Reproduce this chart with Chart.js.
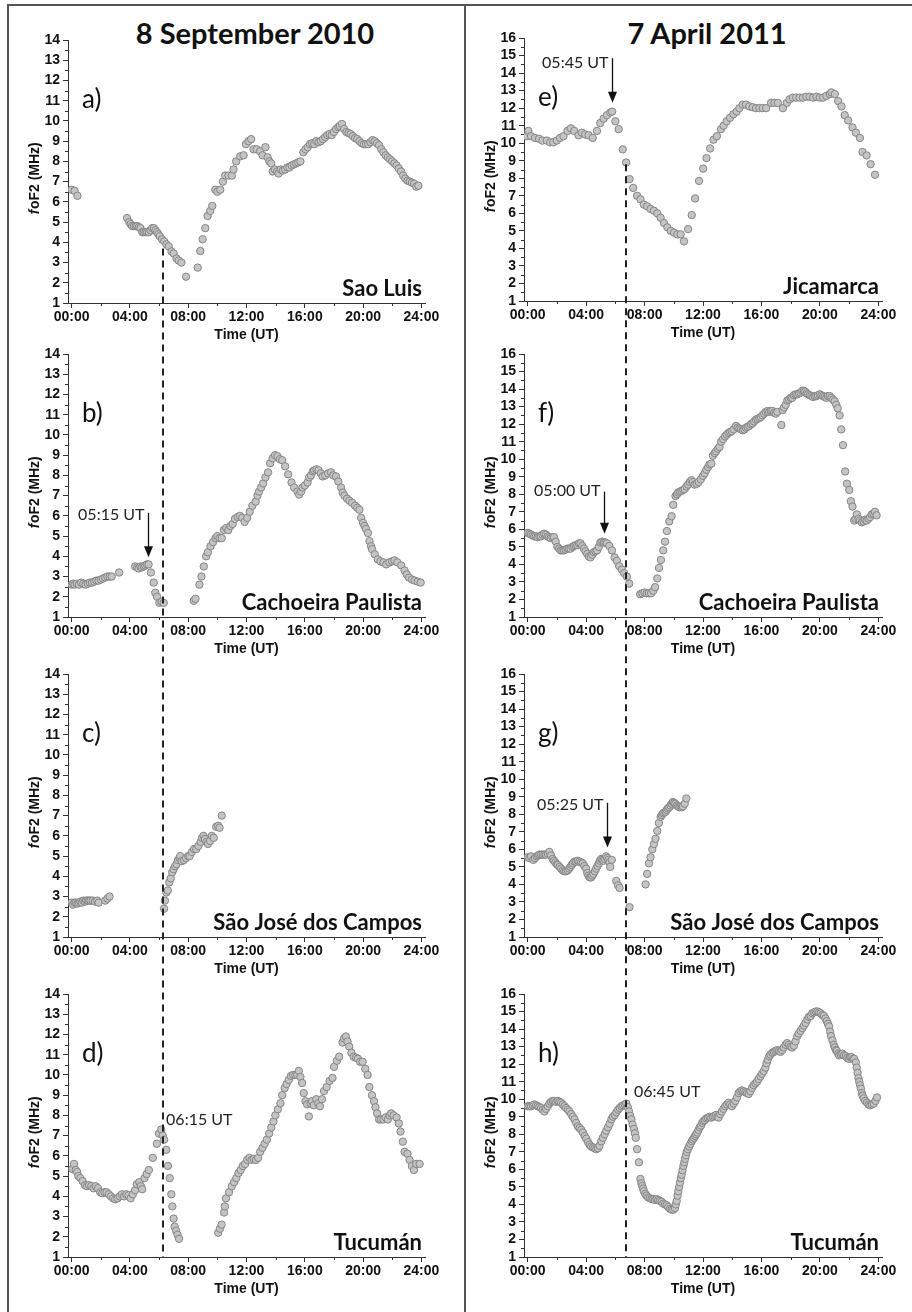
<!DOCTYPE html>
<html>
<head>
<meta charset="utf-8">
<script src="https://cdn.jsdelivr.net/npm/chart.js@4.4.1/dist/chart.umd.min.js"></script>
<style>
  body { margin: 0; background: #fff; }
  #page { position: relative; width: 912px; height: 1312px; overflow: hidden; background: #fff; }
  .rule { position: absolute; background: #555; }
  .date { position: absolute; top: 19px; width: 400px; text-align: center; font: bold 29px Lato, sans-serif; line-height: 28px; color: #111; }
  .panel { position: absolute; }
  #overlay { position: absolute; left: 0; top: 0; pointer-events: none; }
</style>
</head>
<body>
<div id="page">
  <div class="rule" style="left:7px;top:4px;width:2px;height:1308px"></div>
  <div class="rule" style="left:7px;top:4px;width:905px;height:2px"></div>
  <div class="rule" style="left:464px;top:4px;width:2px;height:1308px"></div>
  <div class="date" style="left:55px">8 September 2010</div>
  <div class="date" style="left:507px">7 April 2011</div>
  <canvas id="overlay" width="912" height="1312"></canvas>
</div>
<script>
// foF2 readings, [hour UT, MHz]
const saoLuis2010 = [
  [0.0,6.6],[0.2,6.55],[0.4,6.3],
  [3.8,5.2],[3.95,5.0],[4.05,4.9],[4.15,4.8],[4.27,4.8],[4.4,4.8],[4.5,4.8],[4.62,4.75],[4.72,4.7],[4.85,4.5],[4.95,4.5],[5.07,4.5],[5.18,4.5],[5.3,4.5],[5.41,4.6],[5.52,4.7],[5.64,4.7],[5.75,4.6],[5.86,4.5],[5.95,4.4],[6.05,4.3],[6.2,4.15],[6.35,4.05],[6.5,3.9],[6.66,3.8],[6.85,3.55],[7.0,3.45],[7.2,3.2],[7.35,3.1],[7.53,3.0],[7.85,2.3],
  [8.65,2.75],[8.83,3.57],[8.99,4.15],[9.17,4.7],[9.33,5.3],[9.51,5.55],[9.65,5.8],[9.86,6.6],[10.0,6.5],[10.2,6.6],[10.38,7.0],[10.54,7.3],[10.77,7.3],[11.0,7.3],[11.11,7.6],[11.29,8.0],[11.57,8.25],[11.8,8.3],[11.96,8.85],[12.14,9.0],[12.32,9.1],[12.48,8.6],[12.7,8.6],[12.93,8.5],[13.1,8.3],[13.3,8.7],[13.45,8.2],[13.57,8.0],[13.7,7.9],[13.8,7.5],[13.95,7.6],[14.1,7.5],[14.2,7.4],[14.35,7.6],[14.5,7.55],[14.65,7.6],[14.8,7.7],[14.95,7.7],[15.1,7.8],[15.25,7.85],[15.4,7.9],[15.55,7.95],[15.7,8.0],[15.9,8.45],[16.05,8.6],[16.2,8.7],[16.35,8.85],[16.5,8.9],[16.65,8.85],[16.8,9.0],[16.95,8.95],[17.1,9.0],[17.25,9.1],[17.4,9.2],[17.55,9.3],[17.7,9.35],[17.85,9.3],[18.0,9.45],[18.15,9.6],[18.3,9.7],[18.4,9.75],[18.55,9.85],[18.7,9.6],[18.85,9.45],[19.0,9.4],[19.15,9.35],[19.3,9.25],[19.45,9.15],[19.6,9.1],[19.75,9.0],[19.9,8.9],[20.05,8.85],[20.2,8.85],[20.35,8.85],[20.5,8.95],[20.65,9.05],[20.8,9.0],[20.95,8.9],[21.1,8.8],[21.25,8.6],[21.4,8.45],[21.55,8.3],[21.7,8.2],[21.85,8.1],[22.0,8.0],[22.15,7.9],[22.3,7.8],[22.45,7.65],[22.6,7.5],[22.75,7.3],[22.9,7.15],[23.05,7.05],[23.2,7.0],[23.35,6.95],[23.5,6.9],[23.65,6.75],[23.8,6.8]
];
const cachoeira2010 = [
  [0.0,2.6],[0.1,2.65],[0.2,2.6],[0.35,2.65],[0.5,2.6],[0.65,2.7],[0.8,2.65],[0.95,2.6],[1.1,2.65],[1.25,2.7],[1.4,2.7],[1.55,2.75],[1.7,2.8],[1.85,2.8],[2.0,2.85],[2.15,2.9],[2.3,2.95],[2.45,3.0],[2.6,3.0],[2.75,3.0],
  [3.26,3.2],
  [4.36,3.5],[4.5,3.45],[4.6,3.4],[4.72,3.5],[4.82,3.45],[4.95,3.5],[5.05,3.55],[5.17,3.6],[5.28,3.6],[5.44,3.2],[5.63,2.7],[5.74,2.2],[5.86,2.0],[6.02,1.7],[6.17,1.75],[6.32,1.7],
  [8.38,1.8],[8.5,1.9],[8.77,2.6],[8.91,3.0],[9.07,3.5],[9.23,4.0],[9.35,4.2],[9.53,4.5],[9.7,4.7],[9.88,4.9],[10.0,5.0],[10.15,4.9],[10.3,4.9],[10.45,5.3],[10.61,5.4],[10.75,5.3],[10.9,5.5],[11.05,5.6],[11.21,5.85],[11.4,5.95],[11.55,6.0],[11.71,5.9],[11.87,5.7],[12.05,5.9],[12.22,6.2],[12.4,6.5],[12.63,6.7],[12.75,7.0],[12.86,7.2],[13.0,7.4],[13.14,7.6],[13.3,7.9],[13.48,8.15],[13.62,8.6],[13.8,8.85],[13.96,9.0],[14.12,8.95],[14.29,8.8],[14.45,8.75],[14.65,8.45],[14.86,8.05],[15.09,7.65],[15.27,7.4],[15.5,7.2],[15.62,7.05],[15.75,7.2],[15.85,7.4],[16.0,7.5],[16.19,7.65],[16.3,7.9],[16.42,8.0],[16.55,8.2],[16.65,8.25],[16.8,8.3],[16.95,8.25],[17.1,8.1],[17.23,7.95],[17.4,8.0],[17.6,8.1],[17.8,8.15],[17.95,8.0],[18.14,7.95],[18.3,7.7],[18.49,7.4],[18.6,7.15],[18.72,7.0],[18.9,6.85],[19.06,6.75],[19.25,6.65],[19.45,6.5],[19.6,6.4],[19.75,6.3],[19.87,5.9],[20.0,5.65],[20.1,5.5],[20.2,5.35],[20.33,5.15],[20.44,4.75],[20.55,4.5],[20.62,4.35],[20.8,4.1],[21.01,3.85],[21.2,3.75],[21.4,3.7],[21.59,3.6],[21.8,3.7],[22.0,3.75],[22.16,3.8],[22.35,3.7],[22.62,3.55],[22.85,3.3],[23.0,3.1],[23.15,2.95],[23.35,2.85],[23.54,2.8],[23.75,2.75],[23.95,2.7]
];
const saoJose2010 = [
  [0.0,2.7],[0.1,2.6],[0.2,2.7],[0.3,2.7],[0.4,2.65],[0.5,2.7],[0.6,2.75],[0.7,2.7],[0.8,2.8],[0.9,2.75],[1.0,2.8],[1.1,2.8],[1.2,2.8],[1.3,2.8],[1.45,2.8],[1.6,2.75],[1.75,2.8],[1.85,2.7],[2.3,2.8],[2.45,2.9],[2.6,3.0],
  [6.34,2.4],[6.4,2.8],[6.5,3.2],[6.6,3.3],[6.7,3.7],[6.8,3.9],[6.9,4.2],[7.0,4.35],[7.1,4.5],[7.2,4.6],[7.3,4.8],[7.4,4.9],[7.45,5.0],[7.55,4.75],[7.7,4.8],[7.85,4.9],[8.0,5.0],[8.1,5.0],[8.25,5.2],[8.4,5.35],[8.55,5.35],[8.7,5.5],[8.85,5.7],[8.95,5.9],[9.05,6.0],[9.15,5.85],[9.25,5.7],[9.35,5.6],[9.5,5.75],[9.62,6.0],[9.75,5.9],[9.92,6.45],[10.05,6.5],[10.15,6.4],[10.3,7.0]
];
const tucuman2010 = [
  [0.05,5.35],[0.16,5.6],[0.28,5.3],[0.38,5.2],[0.46,5.0],[0.6,4.9],[0.75,4.75],[0.92,4.55],[1.05,4.5],[1.2,4.55],[1.35,4.5],[1.5,4.4],[1.65,4.5],[1.8,4.4],[1.96,4.2],[2.1,4.15],[2.25,4.2],[2.4,4.2],[2.55,4.1],[2.69,4.0],[2.85,3.9],[2.99,3.85],[3.15,3.9],[3.3,4.0],[3.45,4.1],[3.6,4.0],[3.75,4.1],[3.9,4.05],[4.05,3.9],[4.2,4.1],[4.35,4.3],[4.47,4.6],[4.65,4.7],[4.75,4.5],[4.84,4.35],[5.0,4.9],[5.15,5.1],[5.3,5.3],[5.57,5.9],[5.85,6.6],[5.99,7.1],[6.15,7.3],[6.25,7.0],[6.35,6.8],[6.49,6.3],[6.61,5.5],[6.73,4.9],[6.84,4.1],[6.91,3.5],[7.0,2.9],[7.07,2.5],[7.17,2.3],[7.27,2.1],[7.37,1.9],
  [10.06,2.2],[10.18,2.4],[10.29,2.6],[10.46,3.2],[10.52,3.5],[10.59,3.9],[10.8,4.2],[10.99,4.5],[11.15,4.7],[11.3,4.9],[11.45,5.15],[11.6,5.3],[11.75,5.5],[11.9,5.6],[12.05,5.8],[12.2,5.9],[12.35,5.8],[12.5,5.85],[12.65,5.8],[12.8,5.9],[12.94,6.2],[13.1,6.4],[13.25,6.6],[13.4,6.8],[13.55,7.1],[13.7,7.4],[13.85,7.7],[13.98,8.0],[14.15,8.3],[14.33,8.6],[14.45,9.0],[14.62,9.35],[14.75,9.55],[14.9,9.75],[15.05,9.95],[15.2,10.0],[15.35,10.0],[15.48,10.0],[15.59,10.2],[15.7,9.9],[15.82,9.6],[15.93,9.1],[16.05,8.7],[16.16,8.55],[16.28,7.95],[16.4,8.6],[16.5,8.7],[16.62,8.5],[16.79,8.8],[16.92,8.6],[17.04,8.45],[17.18,8.8],[17.32,9.2],[17.5,9.4],[17.7,9.7],[17.9,9.85],[18.01,10.4],[18.2,10.7],[18.36,10.9],[18.59,11.6],[18.7,11.8],[18.82,11.9],[18.93,11.65],[19.05,11.4],[19.2,11.1],[19.35,10.9],[19.51,10.85],[19.65,10.8],[19.8,10.65],[19.97,10.65],[20.15,10.3],[20.31,10.0],[20.43,9.4],[20.61,9.0],[20.75,8.7],[20.85,8.4],[20.96,8.1],[21.1,7.8],[21.23,7.8],[21.4,7.8],[21.55,7.9],[21.7,7.8],[21.82,8.0],[21.93,8.1],[22.1,8.0],[22.3,7.9],[22.45,7.6],[22.57,7.2],[22.73,6.7],[22.85,6.2],[23.05,6.1],[23.19,5.8],[23.35,5.5],[23.49,5.3],[23.65,5.6],[23.88,5.6]
];
const jicamarca2011 = [
  [-0.1,10.4],[0.05,10.7],[0.23,10.4],[0.5,10.3],[0.78,10.25],[1.01,10.15],[1.31,10.15],[1.54,10.05],[1.76,10.05],[1.99,10.15],[2.22,10.3],[2.45,10.4],[2.73,10.7],[2.96,10.85],[3.19,10.7],[3.48,10.45],[3.71,10.6],[3.94,10.5],[4.17,10.45],[4.45,10.3],[4.74,10.7],[4.97,11.15],[5.2,11.4],[5.43,11.6],[5.66,11.75],[5.78,11.8],[6.0,11.25],[6.23,10.8],[6.51,9.65],[6.74,8.9],[6.97,7.95],[7.22,7.45],[7.49,7.0],[7.72,6.8],[7.95,6.5],[8.18,6.4],[8.41,6.25],[8.64,6.15],[8.87,6.0],[9.1,5.75],[9.33,5.45],[9.56,5.2],[9.79,5.0],[10.02,4.9],[10.24,4.8],[10.47,4.8],[10.7,4.4],[10.98,5.1],[11.23,5.9],[11.46,6.85],[11.73,7.85],[12.01,8.55],[12.24,9.15],[12.49,9.7],[12.72,10.2],[12.95,10.4],[13.23,10.8],[13.41,11.0],[13.62,11.25],[13.85,11.45],[14.08,11.65],[14.3,11.8],[14.49,12.0],[14.71,12.2],[14.94,12.2],[15.17,12.1],[15.4,12.05],[15.63,12.0],[15.86,12.0],[16.09,12.0],[16.32,12.0],[16.66,12.3],[16.89,12.3],[17.12,12.3],[17.47,12.0],[17.74,12.3],[17.92,12.5],[18.15,12.6],[18.38,12.6],[18.61,12.6],[18.84,12.6],[19.07,12.65],[19.3,12.65],[19.53,12.6],[19.76,12.65],[19.99,12.6],[20.22,12.6],[20.44,12.7],[20.67,12.8],[20.79,12.9],[21.02,12.8],[21.25,12.4],[21.48,12.1],[21.7,11.6],[21.93,11.3],[22.23,10.9],[22.46,10.6],[22.74,10.3],[22.92,9.5],[23.2,9.3],[23.47,8.8],[23.77,8.2]
];
const cachoeira2011 = [
  [0.0,5.8],[0.12,5.75],[0.23,5.7],[0.35,5.65],[0.45,5.6],[0.57,5.6],[0.68,5.55],[0.8,5.6],[0.91,5.6],[1.02,5.7],[1.13,5.75],[1.25,5.7],[1.36,5.6],[1.47,5.55],[1.58,5.5],[1.7,5.55],[1.81,5.55],[1.92,5.3],[2.04,5.0],[2.15,4.9],[2.26,4.8],[2.38,4.8],[2.49,4.8],[2.6,4.85],[2.72,4.9],[2.83,4.9],[2.94,4.9],[3.06,5.0],[3.17,5.05],[3.28,5.1],[3.4,5.1],[3.51,5.2],[3.62,5.2],[3.74,5.05],[3.85,4.9],[3.96,4.75],[4.08,4.6],[4.19,4.45],[4.3,4.4],[4.42,4.55],[4.53,4.7],[4.64,4.75],[4.75,4.8],[4.87,5.0],[4.98,5.25],[5.1,5.3],[5.21,5.25],[5.32,5.25],[5.43,5.2],[5.59,5.05],[5.77,4.8],[5.95,4.4],[6.11,4.2],[6.27,3.9],[6.45,3.7],[6.61,3.5],[6.79,3.3],[6.95,2.9],
  [7.7,2.3],[7.85,2.35],[8.0,2.4],[8.15,2.35],[8.3,2.35],[8.45,2.35],[8.6,2.5],[8.72,2.7],[8.87,3.2],[8.99,3.8],[9.12,4.25],[9.28,4.8],[9.4,5.3],[9.53,5.9],[9.69,6.45],[9.85,6.75],[9.96,7.4],[10.12,7.9],[10.22,8.0],[10.3,8.1],[10.42,8.15],[10.53,8.2],[10.65,8.25],[10.75,8.3],[10.87,8.45],[10.98,8.55],[11.1,8.7],[11.21,8.8],[11.32,8.7],[11.43,8.55],[11.57,8.6],[11.7,8.7],[11.85,8.85],[12.0,9.05],[12.12,9.2],[12.23,9.4],[12.35,9.55],[12.45,9.7],[12.57,9.75],[12.68,10.2],[12.8,10.35],[12.9,10.45],[13.02,10.6],[13.13,10.7],[13.24,11.0],[13.38,11.15],[13.51,11.3],[13.62,11.4],[13.74,11.5],[13.86,11.55],[13.97,11.6],[14.1,11.7],[14.26,11.9],[14.38,11.8],[14.49,11.75],[14.6,11.7],[14.72,11.65],[14.83,11.7],[14.94,11.8],[15.05,11.85],[15.17,11.9],[15.28,12.0],[15.39,12.05],[15.5,12.15],[15.62,12.25],[15.73,12.3],[15.85,12.35],[15.96,12.4],[16.07,12.5],[16.19,12.6],[16.3,12.7],[16.42,12.75],[16.53,12.7],[16.64,12.75],[16.75,12.75],[16.87,12.65],[16.98,12.6],[17.09,12.7],[17.36,11.95],[17.45,12.8],[17.55,12.95],[17.66,13.1],[17.77,13.35],[17.89,13.4],[18.0,13.5],[18.11,13.5],[18.22,13.65],[18.34,13.7],[18.45,13.7],[18.57,13.75],[18.68,13.8],[18.79,13.9],[18.9,13.9],[19.0,13.85],[19.09,13.75],[19.2,13.7],[19.31,13.65],[19.42,13.6],[19.54,13.55],[19.65,13.6],[19.76,13.6],[19.87,13.65],[19.99,13.7],[20.1,13.65],[20.22,13.6],[20.33,13.55],[20.44,13.5],[20.55,13.6],[20.67,13.6],[20.78,13.5],[20.9,13.4],[21.01,13.3],[21.12,13.1],[21.22,12.9],[21.35,12.5],[21.46,11.7],[21.58,10.8],[21.73,9.3],[21.85,8.6],[22.01,8.25],[22.12,7.6],[22.23,7.3],[22.35,6.5],[22.44,6.6],[22.53,6.85],[22.64,6.6],[22.75,6.5],[22.87,6.4],[22.98,6.45],[23.09,6.55],[23.2,6.5],[23.32,6.6],[23.43,6.7],[23.55,6.85],[23.66,6.9],[23.77,7.0],[23.88,6.8]
];
const saoJose2011 = [
  [0.0,5.55],[0.12,5.5],[0.23,5.6],[0.39,5.4],[0.5,5.5],[0.62,5.6],[0.72,5.65],[0.8,5.7],[0.92,5.7],[1.03,5.7],[1.15,5.7],[1.26,5.7],[1.38,5.75],[1.49,5.85],[1.6,5.65],[1.71,5.45],[1.8,5.35],[1.9,5.25],[2.0,5.15],[2.06,5.1],[2.18,5.0],[2.29,4.9],[2.4,4.8],[2.51,4.75],[2.62,4.75],[2.74,4.8],[2.84,4.9],[2.93,5.0],[3.01,5.1],[3.09,5.2],[3.2,5.3],[3.31,5.3],[3.43,5.35],[3.54,5.3],[3.66,5.25],[3.77,5.2],[3.88,5.05],[4.0,4.9],[4.08,4.65],[4.16,4.5],[4.25,4.4],[4.34,4.4],[4.42,4.5],[4.5,4.6],[4.6,4.75],[4.69,4.9],[4.78,5.05],[4.87,5.2],[4.95,5.35],[5.03,5.45],[5.11,5.4],[5.19,5.35],[5.28,5.45],[5.37,5.6],[5.45,5.5],[5.53,5.4],[5.6,5.25],[5.65,5.0],[5.76,5.4],[6.06,4.2],[6.18,3.95],[6.29,3.8],[6.97,2.7],
  [8.07,4.0],[8.18,4.6],[8.3,5.2],[8.41,5.55],[8.53,6.0],[8.64,6.3],[8.75,6.6],[8.87,7.05],[8.98,7.5],[9.1,7.85],[9.18,7.95],[9.26,8.05],[9.35,8.1],[9.44,8.15],[9.52,8.25],[9.6,8.35],[9.69,8.4],[9.78,8.5],[9.86,8.6],[9.94,8.7],[10.02,8.65],[10.1,8.6],[10.2,8.5],[10.29,8.45],[10.38,8.4],[10.47,8.45],[10.55,8.4],[10.63,8.45],[10.75,8.6],[10.86,8.9]
];
const tucuman2011 = [
  [0.0,9.6],[0.12,9.6],[0.23,9.6],[0.35,9.65],[0.46,9.7],[0.58,9.65],[0.69,9.6],[0.8,9.55],[0.92,9.5],[1.03,9.4],[1.15,9.3],[1.26,9.45],[1.38,9.6],[1.49,9.75],[1.6,9.85],[1.72,9.9],[1.83,9.9],[1.95,9.85],[2.06,9.9],[2.17,9.85],[2.29,9.8],[2.4,9.7],[2.52,9.6],[2.63,9.5],[2.75,9.4],[2.86,9.3],[2.98,9.15],[3.09,9.0],[3.21,8.85],[3.32,8.65],[3.44,8.45],[3.55,8.35],[3.67,8.25],[3.78,8.1],[3.9,7.9],[4.01,7.75],[4.13,7.55],[4.24,7.4],[4.35,7.3],[4.47,7.25],[4.58,7.2],[4.7,7.15],[4.81,7.2],[4.92,7.35],[5.04,7.6],[5.15,7.8],[5.27,8.0],[5.38,8.2],[5.5,8.4],[5.61,8.6],[5.73,8.85],[5.84,9.0],[5.96,9.1],[6.07,9.25],[6.19,9.4],[6.3,9.5],[6.42,9.6],[6.53,9.65],[6.65,9.7],[6.75,9.75],[6.85,9.55],[6.94,9.3],[7.02,9.05],[7.1,8.85],[7.18,8.55],[7.27,8.3],[7.34,8.05],[7.4,7.8],[7.49,7.15],[7.61,6.4],[7.72,5.45],[7.78,5.2],[7.84,5.05],[7.9,4.9],[7.95,4.75],[8.05,4.6],[8.14,4.5],[8.25,4.4],[8.37,4.35],[8.48,4.3],[8.6,4.3],[8.71,4.25],[8.82,4.3],[8.94,4.25],[9.05,4.2],[9.17,4.15],[9.28,4.05],[9.4,4.0],[9.51,3.95],[9.62,3.85],[9.74,3.75],[9.85,3.7],[9.97,3.7],[10.08,3.8],[10.14,4.0],[10.2,4.2],[10.26,4.5],[10.31,4.75],[10.37,5.0],[10.43,5.25],[10.48,5.5],[10.54,5.7],[10.6,5.95],[10.66,6.2],[10.72,6.4],[10.77,6.6],[10.83,6.8],[10.89,7.0],[10.97,7.15],[11.05,7.3],[11.14,7.45],[11.23,7.6],[11.31,7.7],[11.39,7.8],[11.46,7.9],[11.53,8.0],[11.61,8.1],[11.69,8.25],[11.78,8.4],[11.87,8.5],[11.95,8.65],[12.03,8.75],[12.12,8.8],[12.22,8.9],[12.33,8.95],[12.45,9.0],[12.56,8.95],[12.67,9.0],[12.78,9.05],[12.9,9.1],[13.0,9.0],[13.06,8.95],[13.18,9.15],[13.29,9.3],[13.4,9.45],[13.52,9.6],[13.63,9.7],[13.75,9.8],[13.86,9.7],[13.98,9.6],[14.1,9.75],[14.21,9.9],[14.33,10.1],[14.44,10.35],[14.56,10.45],[14.67,10.5],[14.78,10.45],[14.9,10.4],[15.01,10.35],[15.13,10.3],[15.24,10.45],[15.36,10.65],[15.47,10.8],[15.59,10.9],[15.7,11.0],[15.81,11.15],[15.93,11.3],[16.04,11.45],[16.16,11.6],[16.27,11.8],[16.35,12.05],[16.43,12.25],[16.53,12.45],[16.62,12.55],[16.74,12.65],[16.85,12.7],[16.96,12.75],[17.08,12.8],[17.19,12.75],[17.3,12.7],[17.42,12.8],[17.53,12.95],[17.65,13.1],[17.76,13.2],[17.88,13.1],[17.99,13.0],[18.1,12.95],[18.22,13.05],[18.33,13.3],[18.45,13.6],[18.56,13.75],[18.68,13.9],[18.8,14.05],[18.91,14.2],[19.02,14.35],[19.14,14.55],[19.25,14.7],[19.37,14.75],[19.48,14.9],[19.6,14.95],[19.71,15.0],[19.83,15.0],[19.94,14.95],[20.05,14.9],[20.17,14.8],[20.28,14.75],[20.38,14.6],[20.47,14.45],[20.55,14.3],[20.63,14.15],[20.7,13.85],[20.76,13.6],[20.86,13.35],[20.95,13.1],[21.02,12.95],[21.1,12.8],[21.16,12.75],[21.25,12.6],[21.32,12.5],[21.43,12.55],[21.54,12.6],[21.65,12.5],[21.77,12.45],[21.88,12.35],[22.0,12.3],[22.08,12.4],[22.16,12.4],[22.26,12.3],[22.35,12.3],[22.46,12.1],[22.52,11.8],[22.58,11.5],[22.64,11.2],[22.69,11.0],[22.75,10.8],[22.81,10.6],[22.87,10.35],[22.92,10.2],[23.0,10.05],[23.1,9.9],[23.22,9.8],[23.33,9.7],[23.45,9.65],[23.56,9.7],[23.68,9.75],[23.8,9.9],[23.91,10.1]
];

const hourTicks = [0, 4, 8, 12, 16, 20, 24];
const minorHours = [2, 6, 10, 14, 18, 22];

// panels: column 0 = 8 Sep 2010, column 1 = 7 Apr 2011
const panels = [
  { letter: 'a)', station: 'Sao Luis', data: saoLuis2010, yMax: 14, col: 0, row: 0 },
  { letter: 'b)', station: 'Cachoeira Paulista', data: cachoeira2010, yMax: 14, col: 0, row: 1,
    arrow: { time: 5.25, from: 6.15, to: 3.95, text: '05:15 UT', textY: 6.05 } },
  { letter: 'c)', station: 'São José dos Campos', data: saoJose2010, yMax: 14, col: 0, row: 2 },
  { letter: 'd)', station: 'Tucumán', data: tucuman2010, yMax: 14, col: 0, row: 3,
    note: { text: '06:15 UT', time: 6.48, value: 7.8 } },
  { letter: 'e)', station: 'Jicamarca', data: jicamarca2011, yMax: 16, col: 1, row: 0,
    arrow: { time: 5.75, from: 14.85, to: 12.3, text: '05:45 UT', textY: 14.6 } },
  { letter: 'f)', station: 'Cachoeira Paulista', data: cachoeira2011, yMax: 16, col: 1, row: 1,
    arrow: { time: 5.2, from: 8.15, to: 5.75, text: '05:00 UT', textY: 8.2 } },
  { letter: 'g)', station: 'São José dos Campos', data: saoJose2011, yMax: 16, col: 1, row: 2,
    arrow: { time: 5.42, from: 8.65, to: 6.1, text: '05:25 UT', textY: 8.55 } },
  { letter: 'h)', station: 'Tucumán', data: tucuman2011, yMax: 16, col: 1, row: 3,
    note: { text: '06:45 UT', time: 7.28, value: 10.4 } }
];

// dashed onset lines, one per column
const onsets = [
  { col: 0, time: 6.25, from: 3.7 },
  { col: 1, time: 6.75, from: 8.8 }
];

const colLeft = [10, 466];
const colWidth = [440, 441];
const areaTop = [[40, 354, 674, 994], [38, 354, 674, 994]];
const PAD_TOP = 12, X_AXIS_H = 42, Y_AXIS_W = 58, AREA_H = 263;

const tickFont = { family: 'Liberation Sans', weight: 'bold', size: 14 };
const axisColor = '#333';

const minorTicks = {
  id: 'minorTicks',
  afterDraw(chart) {
    const { ctx, scales: { x, y } } = chart;
    ctx.save();
    ctx.strokeStyle = axisColor;
    ctx.lineWidth = 1;
    ctx.beginPath();
    minorHours.forEach(h => {
      const px = Math.round(x.getPixelForValue(h)) + 0.5;
      ctx.moveTo(px, y.bottom);
      ctx.lineTo(px, y.bottom + 3);
    });
    for (let v = y.min + 0.5; v < y.max; v += 1) {
      const py = Math.round(y.getPixelForValue(v)) + 0.5;
      ctx.moveTo(x.left, py);
      ctx.lineTo(x.left - 3, py);
    }
    ctx.stroke();
    ctx.restore();
  }
};

const panelText = {
  id: 'panelText',
  afterDatasetsDraw(chart, args, opts) {
    const { ctx, chartArea: a, scales: { x, y } } = chart;
    ctx.save();
    ctx.fillStyle = '#111';
    ctx.textBaseline = 'middle';

    ctx.font = '26px Lato';
    ctx.textAlign = 'left';
    ctx.fillText(opts.letter, a.left + 14, a.top + 60);

    ctx.font = 'bold 22px Lato';
    ctx.textAlign = 'right';
    ctx.fillText(opts.station, a.right - 3, a.bottom - 14);

    // y axis title, italic f
    ctx.save();
    ctx.translate(a.left - 33, (a.top + a.bottom) / 2 + 7);
    ctx.rotate(-Math.PI / 2);
    ctx.textAlign = 'left';
    const fItalic = 'italic bold 14px "Liberation Sans"', fBold = 'bold 14px "Liberation Sans"';
    ctx.font = fItalic;
    const w1 = ctx.measureText('f').width;
    ctx.font = fBold;
    const w2 = ctx.measureText('oF2 (MHz)').width;
    const sx = -(w1 + w2) / 2;
    ctx.font = fItalic;
    ctx.fillText('f', sx, 0);
    ctx.font = fBold;
    ctx.fillText('oF2 (MHz)', sx + w1 + 0.5, 0);
    ctx.restore();

    ctx.font = '16px Lato';
    ctx.fillStyle = '#222';
    if (opts.arrow) {
      const ar = opts.arrow;
      const ax = Math.round(x.getPixelForValue(ar.time)) + 0.5;
      const y0 = y.getPixelForValue(ar.from), y1 = y.getPixelForValue(ar.to);
      ctx.strokeStyle = '#111';
      ctx.lineWidth = 1.3;
      ctx.beginPath();
      ctx.moveTo(ax, y0);
      ctx.lineTo(ax, y1 - 8);
      ctx.stroke();
      ctx.fillStyle = '#111';
      ctx.beginPath();
      ctx.moveTo(ax - 4.5, y1 - 11);
      ctx.lineTo(ax + 4.5, y1 - 11);
      ctx.lineTo(ax, y1);
      ctx.closePath();
      ctx.fill();
      ctx.fillStyle = '#222';
      ctx.textAlign = 'right';
      ctx.fillText(ar.text, ax - 4, y.getPixelForValue(ar.textY));
    }
    if (opts.note) {
      ctx.textAlign = 'left';
      ctx.fillText(opts.note.text, x.getPixelForValue(opts.note.time), y.getPixelForValue(opts.note.value));
    }
    ctx.restore();
  }
};

const page = document.getElementById('page');
const overlay = document.getElementById('overlay');

function makePanel(p) {
  const left = colLeft[p.col];
  const top = areaTop[p.col][p.row] - PAD_TOP;
  const width = colWidth[p.col];
  const height = PAD_TOP + AREA_H + X_AXIS_H;
  const wrap = document.createElement('div');
  wrap.className = 'panel';
  wrap.style.left = left + 'px';
  wrap.style.top = top + 'px';
  const canvas = document.createElement('canvas');
  canvas.width = width;
  canvas.height = height;
  canvas.style.width = width + 'px';
  canvas.style.height = height + 'px';
  wrap.appendChild(canvas);
  page.insertBefore(wrap, overlay);

  const yTicks = [];
  for (let v = 1; v <= p.yMax; v++) yTicks.push(v);

  const chart = new Chart(canvas, {
    type: 'scatter',
    data: {
      datasets: [{
        data: p.data.map(([h, v]) => ({ x: h, y: v })),
        pointRadius: 3.7,
        pointBackgroundColor: '#c4c4c4',
        pointBorderColor: '#858585',
        pointBorderWidth: 1
      }]
    },
    options: {
      responsive: false,
      animation: false,
      events: [],
      layout: { padding: { top: PAD_TOP, right: width - Y_AXIS_W - (p.col ? 358 : 357), bottom: 0, left: 0 } },
      plugins: {
        legend: { display: false },
        tooltip: { enabled: false },
        panelText: { letter: p.letter, station: p.station, arrow: p.arrow, note: p.note }
      },
      scales: {
        x: {
          type: 'linear',
          min: -0.25,
          max: 24.25,
          afterBuildTicks: s => { s.ticks = hourTicks.map(v => ({ value: v })); },
          afterFit: s => { s.height = X_AXIS_H; },
          ticks: {
            autoSkip: false,
            maxRotation: 0,
            padding: 1,
            color: '#111',
            font: tickFont,
            callback: v => String(v).padStart(2, '0') + ':00'
          },
          grid: { drawOnChartArea: false, tickLength: 5, color: axisColor },
          border: { color: axisColor, width: 1 },
          title: { display: true, text: 'Time (UT)', color: '#111', font: tickFont, padding: { top: 0, bottom: 1 } }
        },
        y: {
          min: 1,
          max: p.yMax,
          afterBuildTicks: s => { s.ticks = yTicks.map(v => ({ value: v })); },
          afterFit: s => { s.width = Y_AXIS_W; },
          ticks: { autoSkip: false, padding: 3, color: '#111', font: tickFont },
          grid: { drawOnChartArea: false, tickLength: 5, color: axisColor },
          border: { color: axisColor, width: 1 }
        }
      }
    },
    plugins: [minorTicks, panelText]
  });
  return { chart, left, top, col: p.col, row: p.row };
}

const built = panels.map(makePanel);

// dashed onset line spanning each column, placed through the charts' own scales
function drawOnsets() {
  const ctx = overlay.getContext('2d');
  ctx.save();
  ctx.setLineDash([7, 5]);
  ctx.lineWidth = 2;
  ctx.strokeStyle = '#222';
  onsets.forEach(o => {
    const col = built.filter(b => b.col === o.col).sort((a, b) => a.row - b.row);
    const first = col[0], last = col[col.length - 1];
    const x = first.left + first.chart.scales.x.getPixelForValue(o.time);
    const y0 = first.top + first.chart.scales.y.getPixelForValue(o.from);
    const y1 = last.top + last.chart.chartArea.bottom;
    ctx.beginPath();
    ctx.moveTo(Math.round(x), y0);
    ctx.lineTo(Math.round(x), y1);
    ctx.stroke();
  });
  ctx.restore();
}
drawOnsets();
</script>
</body>
</html>
